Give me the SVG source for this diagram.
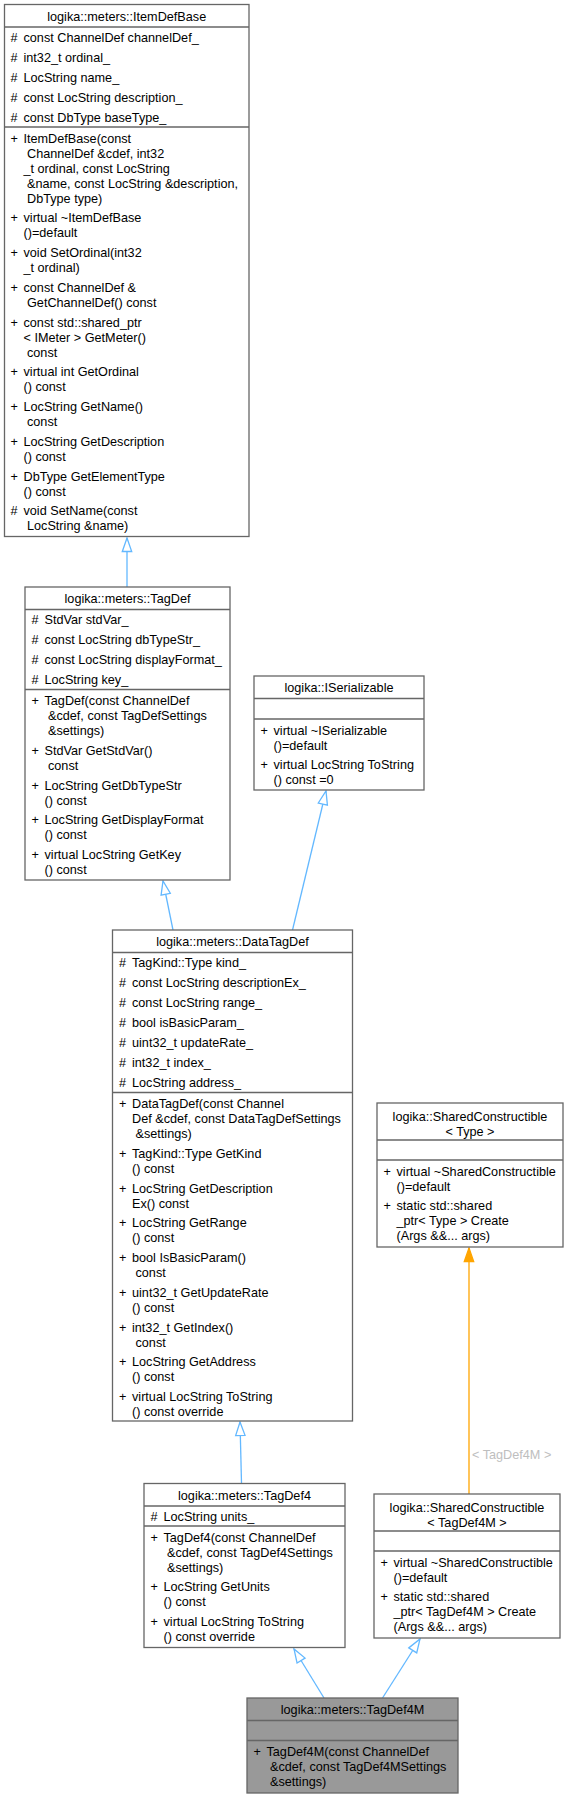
<svg xmlns="http://www.w3.org/2000/svg" width="568" height="1798" viewBox="0 0 568 1798">
<style>
.box{fill:#fff;stroke:#666;stroke-width:1.3}
.hl{fill:#999}
.sep{stroke:#666;stroke-width:1.3}
text{font-family:"Liberation Sans",Arial,Helvetica,sans-serif;font-size:12.67px;fill:#000}
.t{text-anchor:middle}
.edge{fill:none;stroke:#63B8FF;stroke-width:1.3}
.tmpl{fill:none;stroke:#FFA500;stroke-width:1.3}
.lbl{fill:#BEBEBE}
</style>
<defs>
<marker id="inh" markerUnits="userSpaceOnUse" markerWidth="16" markerHeight="12" refX="14" refY="5" orient="auto" overflow="visible">
<path d="M0.5,0.3 L14,5 L0.5,9.7 Z" fill="#fff" stroke="#63B8FF" stroke-width="1.3"/>
</marker>
<marker id="tpl" markerUnits="userSpaceOnUse" markerWidth="16" markerHeight="12" refX="14" refY="5" orient="auto" overflow="visible">
<path d="M0.5,0.3 L14,5 L0.5,9.7 Z" fill="#FFA500" stroke="#FFA500" stroke-width="1.3"/>
</marker>
</defs>

<g id="connectors">
<path class="edge" d="M127,587 L127,538" marker-end="url(#inh)"/>
<path class="edge" d="M173,930 L163,881" marker-end="url(#inh)"/>
<path class="edge" d="M292.5,930 L326,791" marker-end="url(#inh)"/>
<path class="edge" d="M241.5,1483 L240,1422" marker-end="url(#inh)"/>
<path class="tmpl" d="M469,1494 L469,1248" marker-end="url(#tpl)"/>
<text class="lbl" x="472" y="1458.5">&lt; TagDef4M &gt;</text>
<path class="edge" d="M324,1698 L294,1649" marker-end="url(#inh)"/>
<path class="edge" d="M382.5,1698 L420,1639" marker-end="url(#inh)"/>
</g>

<g id="ItemDefBase">
<rect class="box" x="4.5" y="4.5" width="244.5" height="532"/>
<line class="sep" x1="4.5" y1="27" x2="249" y2="27"/>
<line class="sep" x1="4.5" y1="127" x2="249" y2="127"/>
<text class="t" x="126.7" y="21">logika::meters::ItemDefBase</text>
<text x="10.5" y="41.5">#</text><text x="23.5" y="41.5">const ChannelDef channelDef_</text>
<text x="10.5" y="61.5">#</text><text x="23.5" y="61.5">int32_t ordinal_</text>
<text x="10.5" y="81.5">#</text><text x="23.5" y="81.5">LocString name_</text>
<text x="10.5" y="101.5">#</text><text x="23.5" y="101.5">const LocString description_</text>
<text x="10.5" y="121.5">#</text><text x="23.5" y="121.5">const DbType baseType_</text>
<text x="10.5" y="142.5">+</text><text x="23.5" y="142.5">ItemDefBase(const</text>
<text x="27" y="157.5">ChannelDef &amp;cdef, int32</text>
<text x="23.5" y="172.5">_t ordinal, const LocString</text>
<text x="27" y="187.5">&amp;name, const LocString &amp;description,</text>
<text x="27" y="202.5">DbType type)</text>
<text x="10.5" y="222.2">+</text><text x="23.5" y="222.2">virtual ~ItemDefBase</text>
<text x="23.5" y="237.2">()=default</text>
<text x="10.5" y="257">+</text><text x="23.5" y="257">void SetOrdinal(int32</text>
<text x="23.5" y="272">_t ordinal)</text>
<text x="10.5" y="291.7">+</text><text x="23.5" y="291.7">const ChannelDef &amp;</text>
<text x="27" y="306.7">GetChannelDef() const</text>
<text x="10.5" y="326.5">+</text><text x="23.5" y="326.5">const std::shared_ptr</text>
<text x="23.5" y="341.5">&lt; IMeter &gt; GetMeter()</text>
<text x="27" y="356.5">const</text>
<text x="10.5" y="376.2">+</text><text x="23.5" y="376.2">virtual int GetOrdinal</text>
<text x="23.5" y="391.2">() const</text>
<text x="10.5" y="411">+</text><text x="23.5" y="411">LocString GetName()</text>
<text x="27" y="426">const</text>
<text x="10.5" y="445.7">+</text><text x="23.5" y="445.7">LocString GetDescription</text>
<text x="23.5" y="460.7">() const</text>
<text x="10.5" y="480.5">+</text><text x="23.5" y="480.5">DbType GetElementType</text>
<text x="23.5" y="495.5">() const</text>
<text x="10.5" y="515.2">#</text><text x="23.5" y="515.2">void SetName(const</text>
<text x="27" y="530.2">LocString &amp;name)</text>
</g>

<g id="TagDef">
<rect class="box" x="25" y="587" width="205" height="293"/>
<line class="sep" x1="25" y1="609.5" x2="230" y2="609.5"/>
<line class="sep" x1="25" y1="689.5" x2="230" y2="689.5"/>
<text class="t" x="127.5" y="603">logika::meters::TagDef</text>
<text x="31.5" y="624">#</text><text x="44.5" y="624">StdVar stdVar_</text>
<text x="31.5" y="644">#</text><text x="44.5" y="644">const LocString dbTypeStr_</text>
<text x="31.5" y="664">#</text><text x="44.5" y="664">const LocString displayFormat_</text>
<text x="31.5" y="684">#</text><text x="44.5" y="684">LocString key_</text>
<text x="31.5" y="705">+</text><text x="44.5" y="705">TagDef(const ChannelDef</text>
<text x="48" y="720">&amp;cdef, const TagDefSettings</text>
<text x="48" y="735">&amp;settings)</text>
<text x="31.5" y="754.7">+</text><text x="44.5" y="754.7">StdVar GetStdVar()</text>
<text x="48" y="769.7">const</text>
<text x="31.5" y="789.5">+</text><text x="44.5" y="789.5">LocString GetDbTypeStr</text>
<text x="44.5" y="804.5">() const</text>
<text x="31.5" y="824.2">+</text><text x="44.5" y="824.2">LocString GetDisplayFormat</text>
<text x="44.5" y="839.2">() const</text>
<text x="31.5" y="859">+</text><text x="44.5" y="859">virtual LocString GetKey</text>
<text x="44.5" y="874">() const</text>
</g>

<g id="ISerializable">
<rect class="box" x="254" y="676" width="170" height="114"/>
<line class="sep" x1="254" y1="698.5" x2="424" y2="698.5"/>
<line class="sep" x1="254" y1="719" x2="424" y2="719"/>
<text class="t" x="339" y="692">logika::ISerializable</text>
<text x="260.5" y="734.5">+</text><text x="273.5" y="734.5">virtual ~ISerializable</text>
<text x="273.5" y="749.5">()=default</text>
<text x="260.5" y="769.2">+</text><text x="273.5" y="769.2">virtual LocString ToString</text>
<text x="273.5" y="784.2">() const =0</text>
</g>

<g id="DataTagDef">
<rect class="box" x="112.5" y="930" width="240" height="491"/>
<line class="sep" x1="112.5" y1="952.5" x2="352.5" y2="952.5"/>
<line class="sep" x1="112.5" y1="1092.5" x2="352.5" y2="1092.5"/>
<text class="t" x="232.5" y="946">logika::meters::DataTagDef</text>
<text x="119" y="967">#</text><text x="132" y="967">TagKind::Type kind_</text>
<text x="119" y="987">#</text><text x="132" y="987">const LocString descriptionEx_</text>
<text x="119" y="1007">#</text><text x="132" y="1007">const LocString range_</text>
<text x="119" y="1027">#</text><text x="132" y="1027">bool isBasicParam_</text>
<text x="119" y="1047">#</text><text x="132" y="1047">uint32_t updateRate_</text>
<text x="119" y="1067">#</text><text x="132" y="1067">int32_t index_</text>
<text x="119" y="1087">#</text><text x="132" y="1087">LocString address_</text>
<text x="119" y="1108">+</text><text x="132" y="1108">DataTagDef(const Channel</text>
<text x="132" y="1123">Def &amp;cdef, const DataTagDefSettings</text>
<text x="135.5" y="1138">&amp;settings)</text>
<text x="119" y="1157.7">+</text><text x="132" y="1157.7">TagKind::Type GetKind</text>
<text x="132" y="1172.7">() const</text>
<text x="119" y="1192.5">+</text><text x="132" y="1192.5">LocString GetDescription</text>
<text x="132" y="1207.5">Ex() const</text>
<text x="119" y="1227.2">+</text><text x="132" y="1227.2">LocString GetRange</text>
<text x="132" y="1242.2">() const</text>
<text x="119" y="1262">+</text><text x="132" y="1262">bool IsBasicParam()</text>
<text x="135.5" y="1277">const</text>
<text x="119" y="1296.7">+</text><text x="132" y="1296.7">uint32_t GetUpdateRate</text>
<text x="132" y="1311.7">() const</text>
<text x="119" y="1331.5">+</text><text x="132" y="1331.5">int32_t GetIndex()</text>
<text x="135.5" y="1346.5">const</text>
<text x="119" y="1366.2">+</text><text x="132" y="1366.2">LocString GetAddress</text>
<text x="132" y="1381.2">() const</text>
<text x="119" y="1401">+</text><text x="132" y="1401">virtual LocString ToString</text>
<text x="132" y="1416">() const override</text>
</g>

<g id="SharedConstructibleType">
<rect class="box" x="377" y="1103" width="186" height="144"/>
<line class="sep" x1="377" y1="1140" x2="563" y2="1140"/>
<line class="sep" x1="377" y1="1160" x2="563" y2="1160"/>
<text class="t" x="470" y="1121">logika::SharedConstructible</text>
<text class="t" x="470" y="1136">&lt; Type &gt;</text>
<text x="383.5" y="1175.5">+</text><text x="396.5" y="1175.5">virtual ~SharedConstructible</text>
<text x="396.5" y="1190.5">()=default</text>
<text x="383.5" y="1210.2">+</text><text x="396.5" y="1210.2">static std::shared</text>
<text x="396.5" y="1225.2">_ptr&lt; Type &gt; Create</text>
<text x="396.5" y="1240.2">(Args &amp;&amp;... args)</text>
</g>

<g id="TagDef4">
<rect class="box" x="144" y="1483.5" width="201" height="164"/>
<line class="sep" x1="144" y1="1506" x2="345" y2="1506"/>
<line class="sep" x1="144" y1="1526" x2="345" y2="1526"/>
<text class="t" x="244.5" y="1499.5">logika::meters::TagDef4</text>
<text x="150.5" y="1520.5">#</text><text x="163.5" y="1520.5">LocString units_</text>
<text x="150.5" y="1541.5">+</text><text x="163.5" y="1541.5">TagDef4(const ChannelDef</text>
<text x="167" y="1556.5">&amp;cdef, const TagDef4Settings</text>
<text x="167" y="1571.5">&amp;settings)</text>
<text x="150.5" y="1591.2">+</text><text x="163.5" y="1591.2">LocString GetUnits</text>
<text x="163.5" y="1606.2">() const</text>
<text x="150.5" y="1626">+</text><text x="163.5" y="1626">virtual LocString ToString</text>
<text x="163.5" y="1641">() const override</text>
</g>

<g id="SharedConstructibleTagDef4M">
<rect class="box" x="374" y="1494" width="186" height="144"/>
<line class="sep" x1="374" y1="1531" x2="560" y2="1531"/>
<line class="sep" x1="374" y1="1551" x2="560" y2="1551"/>
<text class="t" x="467" y="1512">logika::SharedConstructible</text>
<text class="t" x="467" y="1527">&lt; TagDef4M &gt;</text>
<text x="380.5" y="1566.5">+</text><text x="393.5" y="1566.5">virtual ~SharedConstructible</text>
<text x="393.5" y="1581.5">()=default</text>
<text x="380.5" y="1601.2">+</text><text x="393.5" y="1601.2">static std::shared</text>
<text x="393.5" y="1616.2">_ptr&lt; TagDef4M &gt; Create</text>
<text x="393.5" y="1631.2">(Args &amp;&amp;... args)</text>
</g>

<g id="TagDef4M">
<rect class="box hl" x="247" y="1698" width="211" height="95"/>
<line class="sep" x1="247" y1="1720.5" x2="458" y2="1720.5"/>
<line class="sep" x1="247" y1="1740.5" x2="458" y2="1740.5"/>
<text class="t" x="352.5" y="1714">logika::meters::TagDef4M</text>
<text x="253.5" y="1756">+</text><text x="266.5" y="1756">TagDef4M(const ChannelDef</text>
<text x="270" y="1771">&amp;cdef, const TagDef4MSettings</text>
<text x="270" y="1786">&amp;settings)</text>
</g>
</svg>
